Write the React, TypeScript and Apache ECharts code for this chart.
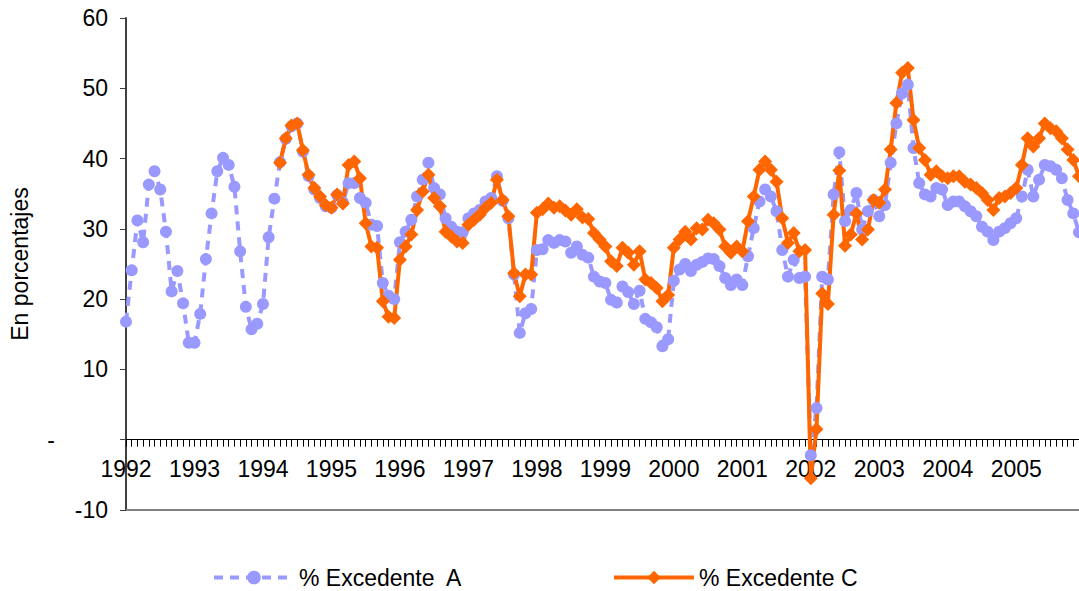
import React, { useEffect, useRef } from "react";
import * as echarts from "echarts";

const years = ["1992", "1993", "1994", "1995", "1996", "1997", "1998", "1999", "2000", "2001", "2002", "2003", "2004", "2005"];
const months = ["01", "02", "03", "04", "05", "06", "07", "08", "09", "10", "11", "12"];
const categories: string[] = [];
years.forEach((y) => months.forEach((m) => categories.push(`${y}-${m}`)));

const yTicks = { min: -10, max: 60, step: 10 };

// % Excedente A (monthly, Jan 1992 - Dec 2005)
const excedenteA = [
  16.8, 24.1, 31.2, 28.1, 36.3, 38.2, 35.6, 29.6, 21.1, 24.0, 19.4, 13.8,
  13.8, 17.9, 25.7, 32.2, 38.2, 40.1, 39.1, 36.0, 26.8, 18.9, 15.7, 16.5,
  19.3, 28.8, 34.3, 39.5, 42.8, 44.6, 45.0, 41.0, 37.5, 35.6, 34.4, 33.2,
  33.0, 34.8, 33.8, 36.5, 36.5, 34.4, 33.7, 30.6, 30.4, 22.3, 20.5, 20.0,
  28.1, 29.6, 31.3, 34.6, 37.0, 39.4, 35.8, 34.9, 31.5, 30.3, 29.6, 29.5,
  31.5, 32.2, 32.7, 33.9, 34.4, 37.5, 34.0, 31.5, 23.5, 15.2, 18.0, 18.6,
  27.0, 27.1, 28.4, 28.0, 28.4, 28.2, 26.6, 27.5, 26.3, 25.9, 23.2, 22.5,
  22.3, 19.9, 19.5, 21.8, 21.0, 19.3, 21.2, 17.2, 16.7, 16.0, 13.3, 14.3,
  22.6, 24.2, 25.0, 24.0, 24.9, 25.3, 25.8, 25.7, 24.7, 23.0, 22.0, 22.8,
  22.0, 26.1, 30.1, 33.9, 35.6, 34.6, 32.5, 27.0, 23.2, 25.6, 23.0, 23.2,
  -2.2, 4.5, 23.2, 22.8, 34.9, 40.9, 31.1, 32.7, 35.1, 29.9, 32.5, 34.1,
  31.8, 33.4, 39.4, 45.0, 49.3, 50.5, 41.5, 36.5, 34.9, 34.6, 35.8, 35.6,
  33.4, 33.9, 33.9, 33.2, 32.5, 31.8, 30.3, 29.6, 28.4, 29.6, 30.1, 30.8,
  31.5, 34.6, 38.4, 34.6, 37.0, 39.1, 38.9, 38.4, 37.2, 34.1, 32.2, 29.5,
];

// % Excedente C (starts Apr 1994)
const excedenteC = [
  null, null, null, null, null, null, null, null, null, null, null, null,
  null, null, null, null, null, null, null, null, null, null, null, null,
  null, null, null, 39.4, 42.9, 44.7, 45.0, 41.2, 37.7, 35.8, 34.6, 33.4,
  33.0, 34.9, 33.6, 39.1, 39.6, 37.2, 30.8, 27.5, 27.3, 19.7, 17.5, 17.3,
  25.6, 27.5, 29.2, 32.7, 35.3, 37.7, 34.4, 33.2, 29.6, 28.9, 28.2, 28.0,
  30.6, 31.3, 32.0, 33.0, 33.7, 37.0, 34.1, 31.8, 23.7, 20.4, 23.5, 23.5,
  32.3, 32.8, 33.6, 33.0, 33.2, 32.6, 32.0, 32.8, 31.6, 31.4, 29.4, 28.5,
  27.5, 25.4, 24.7, 27.3, 26.6, 24.9, 26.8, 22.8, 22.3, 21.6, 19.7, 20.6,
  27.3, 28.5, 29.6, 28.5, 30.1, 29.9, 31.3, 30.8, 29.9, 27.5, 26.6, 27.5,
  26.8, 31.1, 34.6, 38.4, 39.6, 38.4, 36.7, 31.5, 28.0, 29.4, 26.8, 27.0,
  -5.5, 1.5, 20.8, 19.3, 32.0, 38.3, 27.6, 29.2, 32.2, 28.5, 29.9, 34.1,
  33.7, 35.6, 41.3, 47.9, 52.2, 52.9, 45.5, 41.5, 39.8, 37.7, 38.2, 37.5,
  37.2, 37.5, 37.5, 36.7, 36.3, 35.8, 35.1, 34.1, 32.7, 34.4, 34.6, 35.1,
  35.8, 39.1, 42.9, 41.7, 42.9, 45.0, 44.3, 43.9, 42.9, 41.3, 39.8, 37.5,
];

const nameA = "% Excedente  A";
const nameC = "% Excedente C";
const FONT = "'Liberation Sans', Arial, sans-serif";

export default function App() {
  const ref = useRef<HTMLDivElement>(null);

  useEffect(() => {
    if (!ref.current) return;
    const chart = echarts.init(ref.current, undefined, { renderer: "svg" });
    const legendBase = {
      top: 561,
      itemWidth: 80,
      itemHeight: 17,
      itemGap: 0,
      lineStyle: { width: 4 },
      textStyle: { fontSize: 23, color: "#000", fontFamily: FONT },
    };
    chart.setOption({
      animation: false,
      backgroundColor: "#fff",
      textStyle: { fontFamily: FONT },
      grid: { left: 125, top: 18, width: 957, height: 492, containLabel: false },
      legend: [
        { ...legendBase, left: 207, data: [nameA] },
        { ...legendBase, left: 607, data: [nameC] },
      ],
      xAxis: {
        type: "category",
        data: categories,
        boundaryGap: false,
        axisLine: { show: true, onZero: true, lineStyle: { color: "#000", width: 1 } },
        axisTick: { show: true, interval: 0, length: 7, lineStyle: { color: "#000", width: 1 } },
        axisLabel: {
          interval: (i: number) => i % 12 === 0,
          formatter: (v: string) => v.slice(0, 4),
          fontSize: 23,
          color: "#000",
          margin: -53,
          fontFamily: FONT,
        },
        splitLine: { show: false },
      },
      yAxis: {
        type: "value",
        min: yTicks.min,
        max: yTicks.max,
        interval: yTicks.step,
        name: "En porcentajes",
        nameLocation: "middle",
        nameRotate: 90,
        nameGap: 95,
        nameTextStyle: { fontSize: 23, color: "#000", fontFamily: FONT },
        axisLine: { show: true, lineStyle: { color: "#404040", width: 2 } },
        axisTick: { show: true, length: 6, lineStyle: { color: "#404040", width: 1 } },
        splitLine: { show: false },
        axisLabel: {
          fontSize: 23,
          color: "#000",
          margin: 18,
          fontFamily: FONT,
          formatter: (v: number) => (v === 0 ? "{d|-}" : String(v)),
          rich: { d: { fontSize: 23, color: "#000", fontFamily: FONT, padding: [0, 53, 0, 0] } },
        },
      },
      series: [
        {
          name: nameA,
          type: "line",
          data: excedenteA,
          symbol: "circle",
          symbolSize: 12,
          showAllSymbol: true,
          itemStyle: { color: "#9999FF" },
          lineStyle: { color: "#9999FF", width: 4, type: [9, 7] },
          markLine: {
            silent: true,
            symbol: "none",
            label: { show: false },
            lineStyle: { color: "#808080", width: 2, type: "solid" },
            data: [{ yAxis: yTicks.min }],
          },
        },
        {
          name: nameC,
          type: "line",
          data: excedenteC,
          symbol: "diamond",
          symbolSize: 14,
          showAllSymbol: true,
          itemStyle: { color: "#FF6600" },
          lineStyle: { color: "#FF6600", width: 4, type: "solid" },
        },
      ],
    });
    return () => chart.dispose();
  }, []);

  return (
    <div style={{ position: "fixed", left: 0, top: 0, width: 1079, height: 591, overflow: "hidden", background: "#fff" }}>
      <div ref={ref} style={{ width: 1079, height: 591 }} />
    </div>
  );
}
